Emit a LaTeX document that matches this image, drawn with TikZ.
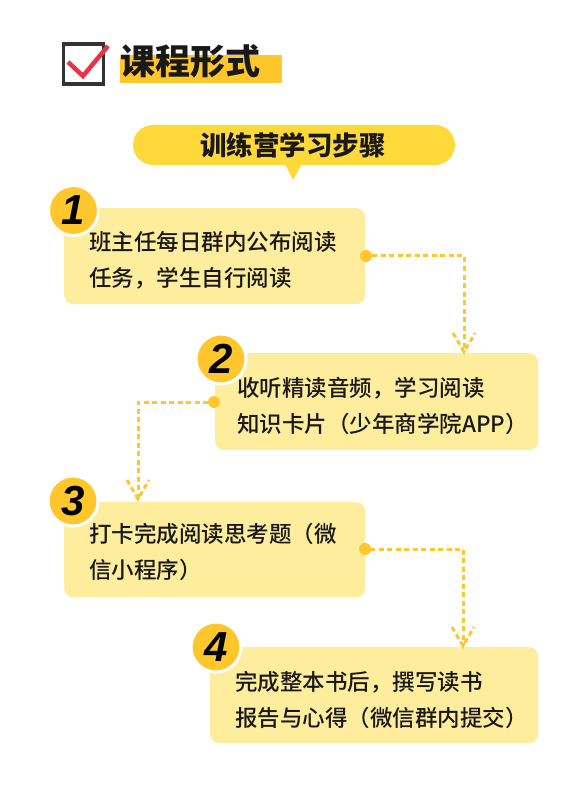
\documentclass[tikz,border=0pt]{standalone}
\usepackage{fontspec}
\newfontfamily\cjk{Noto Sans CJK SC Medium}
\newfontfamily\cjkbold{Noto Sans CJK SC Black}
\newfontfamily\numfont{Liberation Sans Bold Italic}
\usetikzlibrary{calc}
\definecolor{boxyellow}{RGB}{255,237,158}
\definecolor{gold}{RGB}{255,199,44}
\definecolor{pill}{RGB}{255,216,58}
\definecolor{checkred}{RGB}{232,52,72}
\definecolor{darkgray}{RGB}{51,51,51}
\definecolor{txt}{RGB}{25,25,25}
\tikzset{
  stepbox/.style={fill=boxyellow, rounded corners=9pt, draw=none, anchor=north west, inner sep=0pt},
  numcirc/.style={circle, fill=gold, draw=white, line width=3pt, minimum size=50pt, inner sep=0pt,
    font=\numfont\fontsize{42}{42}\selectfont, text=black},
  bodytext/.style={anchor=west, align=left, inner sep=0pt, text=txt,
    font=\cjk\fontsize{22.5}{36}\selectfont},
  conn/.style={draw=gold, line width=3pt, dash pattern=on 5pt off 3.5pt},
  dotmark/.style={circle, fill=gold, minimum size=12pt, inner sep=0pt}
}
\begin{document}
\begin{tikzpicture}[x=1pt, y=-1pt]
\useasboundingbox (0,0) rectangle (587,791);
\fill[white] (0,0) rectangle (587,791);
% header
\node[draw=darkgray, line width=3.2pt, minimum size=40pt, inner sep=0pt] (chk) at (83.5,64) {};
\draw[checkred, line width=4.5pt, line join=miter] (68,62) -- (83,76) -- (108,46);
\fill[gold] (120,55) rectangle (282,83);
\node[anchor=west, inner sep=0pt, font=\cjkbold\fontsize{35}{35}\selectfont, text=txt] (title) at (120,61) {课程形式};
% banner
\fill[pill] (285,164) -- (293,180) -- (302,164) -- cycle;
\node[fill=pill, rounded corners=20pt, minimum width=322pt, minimum height=40pt, inner sep=0pt] (banner) at (294,145) {};
\node[inner sep=0pt, font=\cjkbold\fontsize{26.5}{26.5}\selectfont, text=txt] (btext) at (293,145) {训练营学习步骤};
% boxes
\node[stepbox, minimum width=301pt, minimum height=96pt] (b1) at (64,208) {};
\node[stepbox, minimum width=323pt, minimum height=97pt] (b2) at (215,353) {};
\node[stepbox, minimum width=301pt, minimum height=95pt] (b3) at (64,502) {};
\node[stepbox, minimum width=328pt, minimum height=96pt] (b4) at (210,647) {};
% texts
\node[bodytext] (t1) at (89,260) {班主任每日群内公布阅读\\任务，学生自行阅读};
\node[bodytext] (t2) at (237,406) {收听精读音频，学习阅读\\知识卡片（少年商学院APP）};
\node[bodytext] (t3) at (89,552) {打卡完成阅读思考题（微\\信小程序）};
\node[bodytext] (t4) at (235,700) {完成整本书后，撰写读书\\报告与心得（微信群内提交）};
% number circles
\node[numcirc] (n1) at (73.5,210.5) {1};
\node[numcirc] (n2) at (221,359) {2};
\node[numcirc] (n3) at (73,501) {3};
\node[numcirc] (n4) at (216,647) {4};
% connectors
\coordinate (a2) at (464,352);
\coordinate (a3) at (138,499);
\coordinate (a4) at (463,646);
\draw[conn] (372,256) -| (a2);
\draw[conn] ($(a2)+(-11,-19)$) -- (a2) -- ($(a2)+(11,-19)$);
\draw[conn] (208,402) -| (a3);
\draw[conn] ($(a3)+(-11,-19)$) -- (a3) -- ($(a3)+(11,-19)$);
\draw[conn] (370,549) -| (a4);
\draw[conn] ($(a4)+(-11,-19)$) -- (a4) -- ($(a4)+(11,-19)$);
\node[dotmark] (d1) at (366,256) {};
\node[dotmark] (d2) at (214,402) {};
\node[dotmark] (d3) at (365,549) {};
\end{tikzpicture}
\end{document}
